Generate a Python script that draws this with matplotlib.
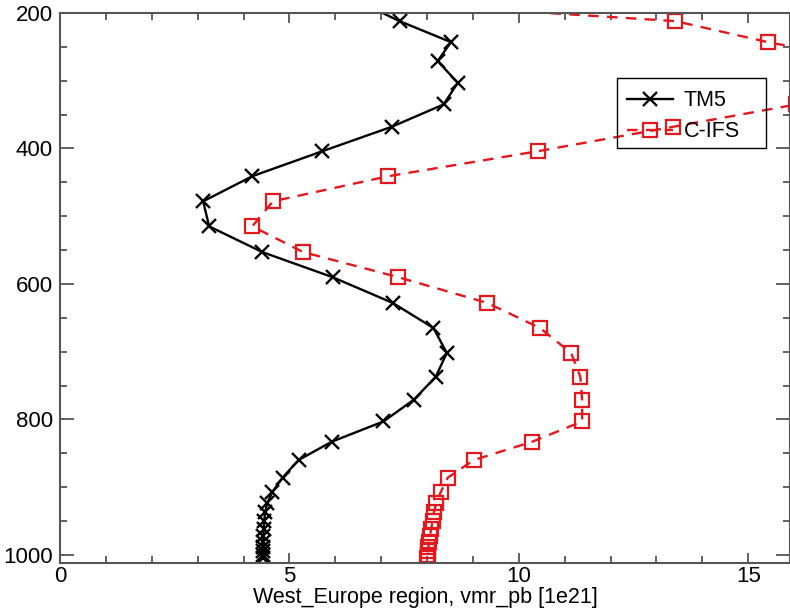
import numpy as np
import matplotlib
matplotlib.use("Agg")
import matplotlib.pyplot as plt
from matplotlib.patches import Rectangle
from matplotlib.ticker import MultipleLocator

plt.rcParams['font.family'] = ['Liberation Sans', 'DejaVu Sans']

# pressure levels (hPa) shared by both profiles
pressure = [186, 212, 243, 271, 303, 335, 368, 404, 441, 478, 515, 553, 590, 628,
            665, 702, 737, 771, 803, 833, 860, 886, 907, 923, 937, 950, 962, 972,
            981, 989, 995, 1000, 1004]

# TM5 profile
tm5 = [6.6, 7.40, 8.52, 8.23, 8.67, 8.36, 7.23, 5.72, 4.19, 3.12, 3.25, 4.41,
       5.94, 7.25, 8.14, 8.43, 8.19, 7.71, 7.05, 5.92, 5.20, 4.85, 4.63, 4.52,
       4.47, 4.45, 4.44, 4.43, 4.43, 4.43, 4.42, 4.42, 4.42]

# C-IFS profile
cifs = [7.4, 13.41, 15.43, 17.6, 17.8, 16.05, 13.36, 10.42, 7.15, 4.64, 4.19,
        5.30, 7.37, 9.31, 10.46, 11.14, 11.34, 11.38, 11.38, 10.29, 9.02, 8.45,
        8.30, 8.20, 8.15, 8.12, 8.09, 8.06, 8.04, 8.03, 8.02, 8.01, 8.00]

axis_col = '#555555'
red = '#e3171c'

fig = plt.figure(figsize=(7.9, 6.12), dpi=100)
ax = fig.add_axes([60/790, 49/612, 730/790, 550/612])

ax.plot(tm5, pressure, color='black', lw=1.7, marker='x', ms=10.5, mew=1.7,
        label='TM5')
ax.plot(cifs, pressure, color=red, lw=1.7, ls=(0, (4.5, 3.5)), marker='s', ms=10,
        mew=1.6, mfc='none', mec=red, label='C-IFS')

ax.set_xlim(0, 15.91)
ax.set_ylim(1012, 200)

ax.xaxis.set_major_locator(MultipleLocator(5))
ax.xaxis.set_minor_locator(MultipleLocator(1))
ax.yaxis.set_major_locator(MultipleLocator(200))
ax.yaxis.set_minor_locator(MultipleLocator(50))

ax.tick_params(axis='both', which='both', direction='in', top=True, right=True,
               color=axis_col, width=1.3, labelsize=16, labelcolor='black')
ax.tick_params(axis='x', which='major', length=7, pad=2)
ax.tick_params(axis='y', which='major', length=10, pad=5)
ax.tick_params(axis='both', which='minor', length=5)
for s in ax.spines.values():
    s.set_color(axis_col)
    s.set_linewidth(1.5)

ax.set_xlabel('West_Europe region, vmr_pb [1e21]', fontsize=15.5, labelpad=0.5)

leg = ax.legend(loc='upper left', bbox_to_anchor=(0.770, 0.869), frameon=False,
                fontsize=15.5, numpoints=1, handlelength=2.1, handletextpad=0.5,
                labelspacing=0.45, borderpad=0.25, borderaxespad=0.0)
ax.add_patch(Rectangle((0.763, 0.7545), 0.204, 0.1275, transform=ax.transAxes,
                       fill=False, edgecolor='black', lw=1.0, zorder=5))

fig.savefig('out.png', dpi=100)
